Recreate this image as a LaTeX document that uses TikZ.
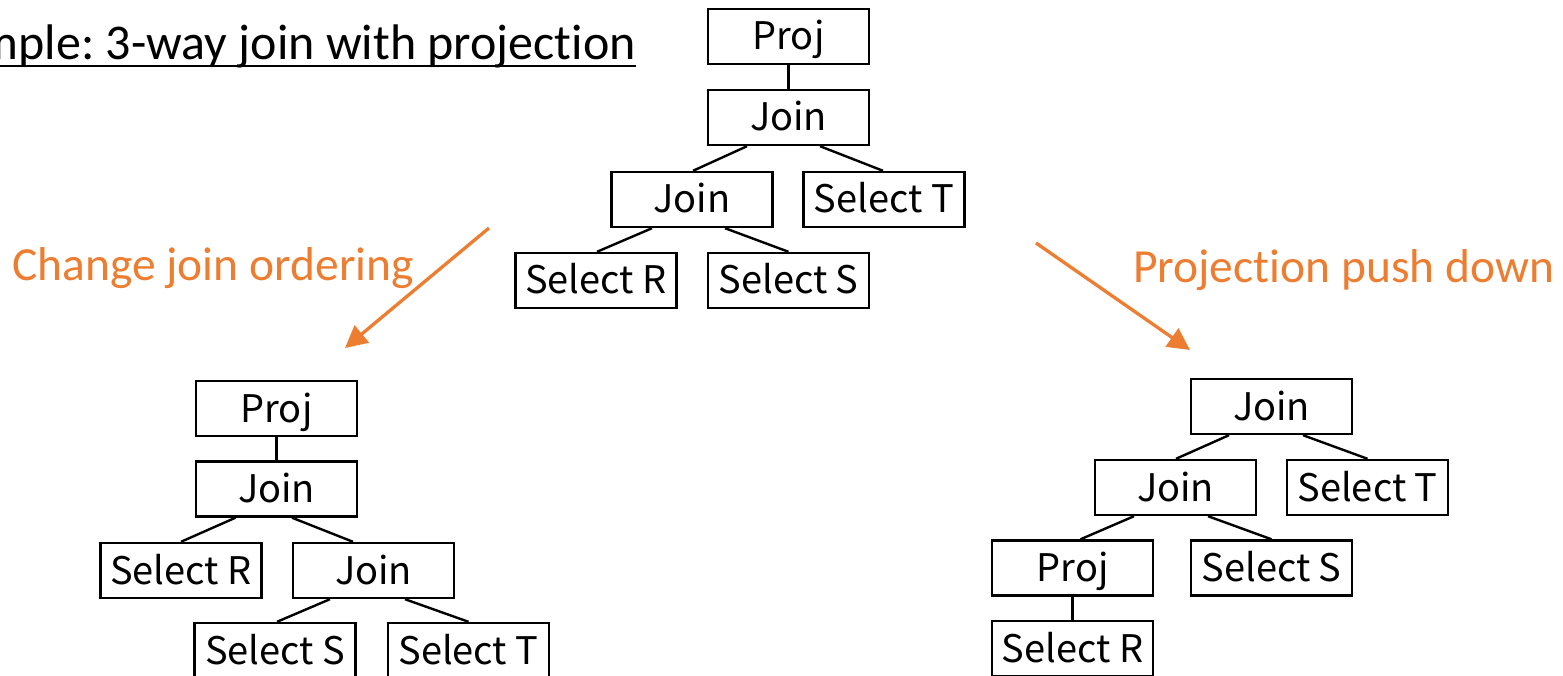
\documentclass[tikz,border=0pt]{standalone}
\usepackage{fontspec}
\setmainfont{Carlito}[Ligatures=NoCommon]
\newfontfamily\boxfont{Noto Sans CJK JP}
\usetikzlibrary{arrows.meta,calc}
\definecolor{accent}{HTML}{ED7D31}
\frenchspacing
\begin{document}
\begin{tikzpicture}[x=1pt,y=-1pt,
  op/.style={draw,line width=2.4pt,minimum width=161pt,minimum height=55pt,
    inner sep=0pt,text height=27pt,text depth=0pt,
    font=\boxfont\fontsize{38}{42}\selectfont},
  link/.style={line width=2.4pt},
  hint/.style={text=accent,font=\fontsize{47.5}{52}\selectfont,
    anchor=base west,inner sep=0pt},
  move/.style={draw=accent,line width=3.3pt,
    -{Triangle[length=22pt,width=22pt]}}]
\useasboundingbox (0,0) rectangle (1563,676);

% heading
\node[font=\fontsize{50}{54}\selectfont,anchor=base east,inner sep=0pt]
  (title) at (636,60) {Example: 3-way join with projection};
\draw[line width=2pt] ($(title.base west)+(0,6.5)$) -- ($(title.base east)+(0,6.5)$);

% original plan
\node[op] (pj)  at (788.5,36.5)  {Proj};
\node[op] (j1)  at (788.5,117.5) {Join};
\node[op] (j2)  at (692,199.5)   {Join};
\node[op] (st)  at (884,199.5)   {Select T};
\node[op] (sr)  at (596,280.5)   {Select R};
\node[op] (ss)  at (788.5,280.5) {Select S};
\draw[link] (pj) -- (j1);
\draw[link] ($(j1.south)+(-41.5,0)$) -- ($(j2.north)+(1,0)$);
\draw[link] ($(j1.south)+(31.5,0)$) -- ($(st.north)+(-1,0)$);
\draw[link] ($(j2.south)+(-40,0)$) -- ($(sr.north)+(1,0)$);
\draw[link] ($(j2.south)+(33,0)$) -- (ss.north);

% reordered joins
\node[op] (lpj) at (276.5,408.5) {Proj};
\node[op] (lj1) at (276.5,489)   {Join};
\node[op] (lsr) at (181,570.5)   {Select R};
\node[op] (lj2) at (373.5,570.5) {Join};
\node[op] (lss) at (275,650.5)   {Select S};
\node[op] (lst) at (468.5,650.5) {Select T};
\draw[link] (lpj) -- (lj1);
\draw[link] ($(lj1.south)+(-41,0)$) -- ($(lsr.north)+(0,0)$);
\draw[link] ($(lj1.south)+(15.5,0)$) -- ($(lj2.north)+(-20.5,0)$);
\draw[link] ($(lj2.south)+(-43.5,0)$) -- ($(lss.north)+(2,0)$);
\draw[link] ($(lj2.south)+(31.5,0)$) -- (lst.north);

% projection pushed below the joins
\node[op] (rj1) at (1271.5,406.5) {Join};
\node[op] (rj2) at (1175.5,487.5) {Join};
\node[op] (rst) at (1367.5,487.5) {Select T};
\node[op] (rpj) at (1072.5,568)   {Proj};
\node[op] (rss) at (1271.5,568)   {Select S};
\node[op] (rsr) at (1072.5,648.5) {Select R};
\draw[link] ($(rj1.south)+(-42.5,0)$) -- ($(rj2.north)+(0.5,0)$);
\draw[link] ($(rj1.south)+(31.5,0)$) -- (rst.north);
\draw[link] ($(rj2.south)+(-41.5,0)$) -- ($(rpj.north)+(8,0)$);
\draw[link] ($(rj2.south)+(32.5,0)$) -- (rss.north);
\draw[link] (rpj) -- (rsr);

% rewrite steps
\node[hint] (lab1) at (12,280)   {Change join ordering};
\node[hint] (lab2) at (1133,283) {Projection push down};
\coordinate (a1s) at (489,228);
\coordinate (a1e) at (345,348);
\coordinate (a2s) at (1036,243);
\coordinate (a2e) at (1190,350);
\draw[move] (a1s) -- (a1e);
\draw[move] (a2s) -- (a2e);
\end{tikzpicture}
\end{document}
